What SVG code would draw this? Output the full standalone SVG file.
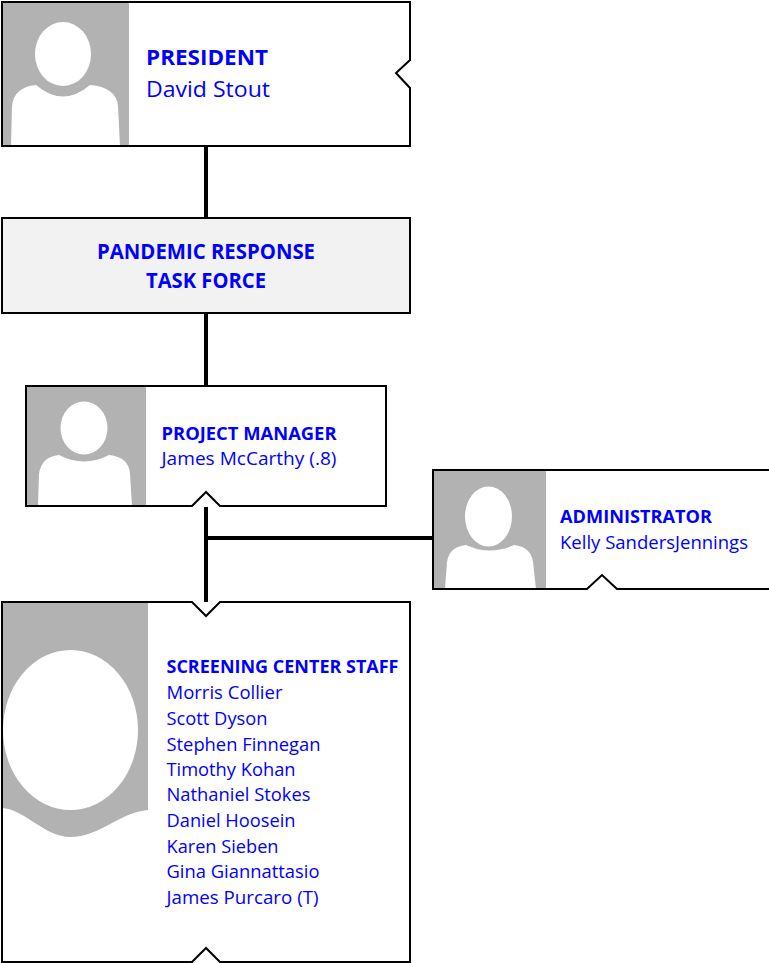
<svg xmlns="http://www.w3.org/2000/svg" width="769" height="963" viewBox="0 0 769 963">
<style>
.box{fill:#fff;stroke:none}
.outline{fill:none;stroke:#000;stroke-width:2}
.photo{fill:#b2b2b2}
.av{fill:#fff}
.conn{stroke:#000;stroke-width:4;fill:none}
.t{font-family:"Open Sans","Liberation Sans",sans-serif;fill:#0000ff}
.b{font-weight:700}
</style>
<rect width="769" height="963" fill="#fff"/>
<g id="connectors">
<line class="conn" x1="206" y1="146" x2="206" y2="218"/>
<line class="conn" x1="206" y1="313" x2="206" y2="386"/>
<line class="conn" x1="206" y1="507" x2="206" y2="602"/>
<line class="conn" x1="204" y1="538" x2="433" y2="538"/>
</g>
<g id="president">
<path class="box" d="M2,2H410V60L396,73L410,88V146H2Z"/>
<rect class="photo" x="2" y="2" width="127" height="144"/>
<ellipse class="av" cx="63" cy="54" rx="28" ry="32"/>
<path class="av" d="M11,146L12,106Q14,87 36,85Q63,108 90,85Q116,87 118,106L120,146Z"/>
<path class="outline" d="M2,2H410V60L396,73L410,88V146H2Z"/>
<text class="t b" x="146" y="65" font-size="22" textLength="122" lengthAdjust="spacingAndGlyphs">PRESIDENT</text>
<text class="t" x="146" y="97" font-size="22" textLength="124" lengthAdjust="spacingAndGlyphs">David Stout</text>
</g>
<g id="taskforce">
<rect x="2" y="218" width="408" height="95" fill="#f2f2f2" stroke="#000" stroke-width="2"/>
<text class="t b" x="206" y="259" font-size="21" text-anchor="middle" textLength="218" lengthAdjust="spacingAndGlyphs">PANDEMIC RESPONSE</text>
<text class="t b" x="206" y="288" font-size="21" text-anchor="middle" textLength="120" lengthAdjust="spacingAndGlyphs">TASK FORCE</text>
</g>
<g id="project-manager">
<path class="box" d="M26,386H386V506H220L206,492L192,506H26Z"/>
<rect class="photo" x="26" y="386" width="120" height="120"/>
<ellipse class="av" cx="84" cy="428" rx="23.5" ry="26.5"/>
<path class="av" d="M38,506L39,474Q41,457 59,455Q84,468 109,455Q129,457 130,474L132,506Z"/>
<path class="outline" d="M26,386H386V506H220L206,492L192,506H26Z"/>
<text class="t b" x="161.5" y="440" font-size="18.5" textLength="175" lengthAdjust="spacingAndGlyphs">PROJECT MANAGER</text>
<text class="t" x="161.5" y="465" font-size="18.5" textLength="175" lengthAdjust="spacingAndGlyphs">James McCarthy (.8)</text>
</g>
<g id="administrator">
<path class="box" d="M433,470H772V589H617L602,575L587,589H433Z"/>
<rect class="photo" x="433" y="470" width="113" height="119"/>
<ellipse class="av" cx="488.5" cy="516.5" rx="23.5" ry="30"/>
<path class="av" d="M445,589L447,562Q449,547 466,545Q490,556 514,545Q531,547 533,562L536,589Z"/>
<path class="outline" d="M433,470H772V589H617L602,575L587,589H433Z"/>
<text class="t b" x="560" y="523" font-size="18" textLength="152" lengthAdjust="spacingAndGlyphs">ADMINISTRATOR</text>
<text class="t" x="560" y="549" font-size="18" textLength="188" lengthAdjust="spacingAndGlyphs">Kelly SandersJennings</text>
</g>
<g id="screening-center-staff">
<path class="box" d="M2,602H192L206,616L220,602H410V962H220L206,948L192,962H2Z"/>
<path class="photo" d="M2,602H148V810C120,812 100,837 70,837C45,837 25,810 3,808L2,808Z"/>
<ellipse class="av" cx="70.5" cy="730" rx="67.5" ry="80"/>
<path class="outline" d="M2,602H192L206,616L220,602H410V962H220L206,948L192,962H2Z"/>
<text class="t b" x="166.5" y="673" font-size="18.5" textLength="232" lengthAdjust="spacingAndGlyphs">SCREENING CENTER STAFF</text>
<text class="t" x="166.5" y="699" font-size="18" textLength="116" lengthAdjust="spacingAndGlyphs">Morris Collier</text>
<text class="t" x="166.5" y="725" font-size="18" textLength="101" lengthAdjust="spacingAndGlyphs">Scott Dyson</text>
<text class="t" x="166.5" y="750.5" font-size="18" textLength="154" lengthAdjust="spacingAndGlyphs">Stephen Finnegan</text>
<text class="t" x="166.5" y="776" font-size="18" textLength="129" lengthAdjust="spacingAndGlyphs">Timothy Kohan</text>
<text class="t" x="166.5" y="801" font-size="18" textLength="144" lengthAdjust="spacingAndGlyphs">Nathaniel Stokes</text>
<text class="t" x="166.5" y="827" font-size="18" textLength="129" lengthAdjust="spacingAndGlyphs">Daniel Hoosein</text>
<text class="t" x="166.5" y="852.5" font-size="18" textLength="112" lengthAdjust="spacingAndGlyphs">Karen Sieben</text>
<text class="t" x="166.5" y="878" font-size="18" textLength="153" lengthAdjust="spacingAndGlyphs">Gina Giannattasio</text>
<text class="t" x="166.5" y="904" font-size="18" textLength="152" lengthAdjust="spacingAndGlyphs">James Purcaro (T)</text>
</g>
</svg>
